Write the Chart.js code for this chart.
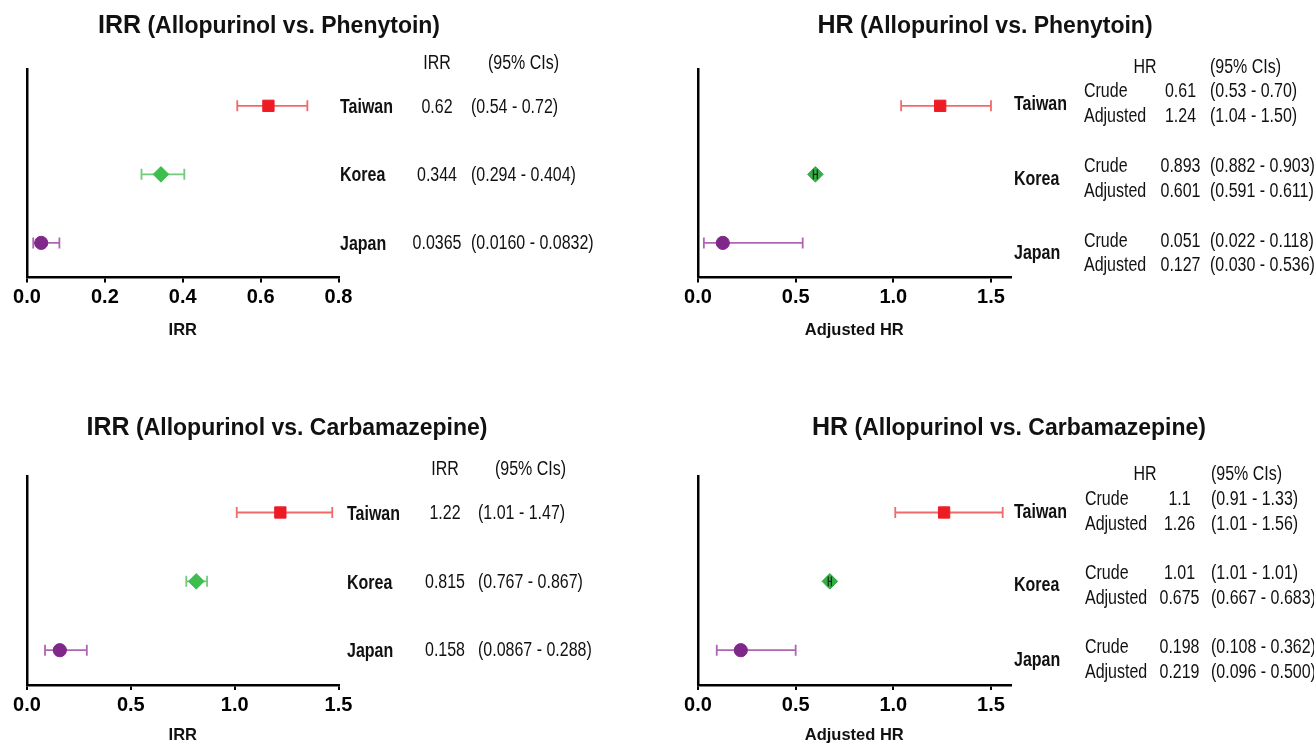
<!DOCTYPE html>
<html><head><meta charset="utf-8">
<script src="https://cdn.jsdelivr.net/npm/chart.js@4.4.1/dist/chart.umd.min.js"></script>
<style>
html,body{margin:0;padding:0;background:#fff;}
#wrap{position:relative;width:1314px;height:744px;overflow:hidden;background:#fff;}
canvas{position:absolute;}
</style></head><body>
<div id="wrap">
<canvas id="c1" width="657" height="372" style="left:0;top:0"></canvas>
<canvas id="c2" width="657" height="372" style="left:657px;top:0"></canvas>
<canvas id="c3" width="657" height="372" style="left:0;top:372px"></canvas>
<canvas id="c4" width="657" height="372" style="left:657px;top:372px"></canvas>
</div>
<script>
// ---------------- DATA ----------------
const countries = ['Taiwan', 'Korea', 'Japan'];
const rows = [1, 2, 3];

// IRR (Allopurinol vs. Phenytoin)
const irrPhenValues = [0.62, 0.344, 0.0365];
const irrPhenLow    = [0.54, 0.294, 0.0160];
const irrPhenHigh   = [0.72, 0.404, 0.0832];
const irrPhenValueText = ['0.62', '0.344', '0.0365'];
const irrPhenCIText    = ['(0.54 - 0.72)', '(0.294 - 0.404)', '(0.0160 - 0.0832)'];
const irrPhenTicks = [0, 0.2, 0.4, 0.6, 0.8];

// HR (Allopurinol vs. Phenytoin)
const hrPhenCrudeText   = ['0.61', '0.893', '0.051'];
const hrPhenCrudeCIText = ['(0.53 - 0.70)', '(0.882 - 0.903)', '(0.022 - 0.118)'];
const hrPhenAdjValues = [1.24, 0.601, 0.127];
const hrPhenAdjLow    = [1.04, 0.591, 0.030];
const hrPhenAdjHigh   = [1.50, 0.611, 0.536];
const hrPhenAdjText   = ['1.24', '0.601', '0.127'];
const hrPhenAdjCIText = ['(1.04 - 1.50)', '(0.591 - 0.611)', '(0.030 - 0.536)'];
const hrPhenTicks = [0, 0.5, 1.0, 1.5];

// IRR (Allopurinol vs. Carbamazepine)
const irrCarbValues = [1.22, 0.815, 0.158];
const irrCarbLow    = [1.01, 0.767, 0.0867];
const irrCarbHigh   = [1.47, 0.867, 0.288];
const irrCarbValueText = ['1.22', '0.815', '0.158'];
const irrCarbCIText    = ['(1.01 - 1.47)', '(0.767 - 0.867)', '(0.0867 - 0.288)'];
const irrCarbTicks = [0, 0.5, 1.0, 1.5];

// HR (Allopurinol vs. Carbamazepine)
const hrCarbCrudeText   = ['1.1', '1.01', '0.198'];
const hrCarbCrudeCIText = ['(0.91 - 1.33)', '(1.01 - 1.01)', '(0.108 - 0.362)'];
const hrCarbAdjValues = [1.26, 0.675, 0.219];
const hrCarbAdjLow    = [1.01, 0.667, 0.096];
const hrCarbAdjHigh   = [1.56, 0.683, 0.500];
const hrCarbAdjText   = ['1.26', '0.675', '0.219'];
const hrCarbAdjCIText = ['(1.01 - 1.56)', '(0.667 - 0.683)', '(0.096 - 0.500)'];
const hrCarbTicks = [0, 0.5, 1.0, 1.5];

// ---------------- STYLE ----------------
const FONT = "'Liberation Sans', Arial, Helvetica, sans-serif";
const markerStyles = ['rect', 'rectRot', 'circle'];
const markerRadius = [8, 7.8, 6.6];
const markerColors = ['#ED1C24', '#3DBE4E', '#80288A'];
const markerColorsHR = ['#ED1C24', '#34AE45', '#80288A'];
const barColors = ['rgba(240,90,90,0.9)', 'rgba(105,200,115,0.95)', 'rgba(165,85,170,0.9)'];
const SX = 0.82;   // condensed regular
const SXB = 0.78;  // condensed bold

function txt(ctx, t, x, y, align, bold, size, sx) {
  ctx.save();
  ctx.translate(x, y);
  ctx.scale(sx, 1);
  ctx.font = (bold ? 'bold ' : '') + size + 'px ' + FONT;
  ctx.textAlign = align;
  ctx.textBaseline = 'middle';
  ctx.fillStyle = '#111';
  ctx.fillText(t, 0, 0);
  ctx.restore();
}

function buildIRRText(p, valueText, ciText) {
  const items = [];
  items.push({t: 'IRR', x: p.valX, y: p.headY, a: 'center'});
  items.push({t: '(95% CIs)', x: p.ciHeadX, y: p.headY, a: 'left'});
  for (let i = 0; i < 3; i++) {
    items.push({t: countries[i], x: p.labX, y: p.rowY[i], a: 'left', b: true});
    items.push({t: valueText[i], x: p.valX, y: p.rowY[i], a: 'center'});
    items.push({t: ciText[i], x: p.ciX, y: p.rowY[i], a: 'left'});
  }
  return items;
}
function buildHRText(p, crT, crCI, adT, adCI) {
  const items = [];
  items.push({t: 'HR', x: p.headHRX, y: p.headY, a: 'center'});
  items.push({t: '(95% CIs)', x: p.ciX, y: p.headY, a: 'left'});
  for (let i = 0; i < 3; i++) {
    const yc = p.rowY[i];
    items.push({t: countries[i], x: p.labX, y: yc, a: 'left', b: true});
    items.push({t: 'Crude', x: p.kindX, y: yc - p.dy, a: 'left'});
    items.push({t: 'Adjusted', x: p.kindX, y: yc + p.dy, a: 'left'});
    items.push({t: crT[i], x: p.valX, y: yc - p.dy, a: 'center'});
    items.push({t: adT[i], x: p.valX, y: yc + p.dy, a: 'center'});
    items.push({t: crCI[i], x: p.ciX, y: yc - p.dy, a: 'left'});
    items.push({t: adCI[i], x: p.ciX, y: yc + p.dy, a: 'left'});
  }
  return items;
}

const panels = [
  { canvas: 'c1', ox: 0, oy: 0, xMax: 0.8, ticks: irrPhenTicks,
    values: irrPhenValues, low: irrPhenLow, high: irrPhenHigh, colors: markerColors,
    area: {left: 27, right: 338.5, top: 69.5, bottom: 277.5},
    title: ['IRR', ' (Allopurinol vs. Phenytoin)'], titleX: 269, titleY: 33,
    axisTitle: 'IRR', axisTitleY: 330,
    text: buildIRRText({valX: 437, ciHeadX: 488, headY: 63.5, labX: 340, ciX: 471, rowY: [107.5, 175.5, 244]},
                       irrPhenValueText, irrPhenCIText) },
  { canvas: 'c2', ox: 657, oy: 0, xMax: 1.6, ticks: hrPhenTicks,
    values: hrPhenAdjValues, low: hrPhenAdjLow, high: hrPhenAdjHigh, colors: markerColorsHR,
    area: {left: 698, right: 1010.5, top: 69.5, bottom: 277.5},
    title: ['HR', ' (Allopurinol vs. Phenytoin)'], titleX: 985, titleY: 33,
    axisTitle: 'Adjusted HR', axisTitleY: 330,
    text: buildHRText({headHRX: 1145, headY: 68, labX: 1014, kindX: 1084, valX: 1180.5, ciX: 1210,
                       rowY: [104.4, 179, 253.6], dy: 12.4},
                      hrPhenCrudeText, hrPhenCrudeCIText, hrPhenAdjText, hrPhenAdjCIText) },
  { canvas: 'c3', ox: 0, oy: 372, xMax: 1.5, ticks: irrCarbTicks,
    values: irrCarbValues, low: irrCarbLow, high: irrCarbHigh, colors: markerColors,
    area: {left: 27, right: 338.5, top: 476, bottom: 685},
    title: ['IRR', ' (Allopurinol vs. Carbamazepine)'], titleX: 287, titleY: 435,
    axisTitle: 'IRR', axisTitleY: 735,
    text: buildIRRText({valX: 445, ciHeadX: 495, headY: 470, labX: 347, ciX: 478, rowY: [514, 583, 651]},
                       irrCarbValueText, irrCarbCIText) },
  { canvas: 'c4', ox: 657, oy: 372, xMax: 1.6, ticks: hrCarbTicks,
    values: hrCarbAdjValues, low: hrCarbAdjLow, high: hrCarbAdjHigh, colors: markerColorsHR,
    area: {left: 698, right: 1010.5, top: 476, bottom: 685},
    title: ['HR', ' (Allopurinol vs. Carbamazepine)'], titleX: 1009, titleY: 435,
    axisTitle: 'Adjusted HR', axisTitleY: 735,
    text: buildHRText({headHRX: 1145, headY: 475, labX: 1014, kindX: 1085, valX: 1179.5, ciX: 1211,
                       rowY: [512, 585.8, 660.5], dy: 12.4},
                      hrCarbCrudeText, hrCarbCrudeCIText, hrCarbAdjText, hrCarbAdjCIText) }
];

function drawBars(chart, p, onlySmall) {
  const ctx = chart.ctx, xs = chart.scales.x, ys = chart.scales.y;
  for (let i = 0; i < p.values.length; i++) {
    const x1 = xs.getPixelForValue(p.low[i]);
    const x2 = xs.getPixelForValue(p.high[i]);
    const y = ys.getPixelForValue(rows[i]);
    const small = (x2 - x1) < 2 * markerRadius[i];
    if (onlySmall && !small) continue;
    ctx.save();
    ctx.strokeStyle = onlySmall ? '#16301a' : barColors[i];
    ctx.lineWidth = onlySmall ? 1.3 : 1.8;
    const ch = onlySmall ? 4.8 : 5.5;
    ctx.beginPath();
    ctx.moveTo(x1, y); ctx.lineTo(x2, y);
    ctx.moveTo(x1, y - ch); ctx.lineTo(x1, y + ch);
    ctx.moveTo(x2, y - ch); ctx.lineTo(x2, y + ch);
    ctx.stroke();
    ctx.restore();
  }
}

function makePlugin(p) {
  return {
    id: 'panelDeco',
    beforeDatasetsDraw(chart) { drawBars(chart, p, false); },
    afterDatasetsDraw(chart) { drawBars(chart, p, true); },
    afterDraw(chart) {
      const ctx = chart.ctx;
      ctx.save();
      ctx.fillStyle = '#111';
      ctx.textBaseline = 'alphabetic';
      ctx.textAlign = 'left';
      const f1 = 'bold 25px ' + FONT, f2 = 'bold 23px ' + FONT;
      ctx.font = f1; const w1 = ctx.measureText(p.title[0]).width;
      ctx.font = f2; const w2 = ctx.measureText(p.title[1]).width;
      const sx = p.titleX - p.ox - (w1 + w2) / 2;
      const ty = p.titleY - p.oy;
      ctx.font = f1; ctx.fillText(p.title[0], sx, ty);
      ctx.font = f2; ctx.fillText(p.title[1], sx + w1, ty);
      const ca = chart.chartArea;
      ctx.font = 'bold 16.5px ' + FONT;
      ctx.textAlign = 'center';
      ctx.textBaseline = 'middle';
      ctx.fillText(p.axisTitle, (ca.left + ca.right) / 2, p.axisTitleY - p.oy);
      ctx.restore();
      for (const it of p.text) {
        txt(ctx, it.t, it.x - p.ox, it.y - p.oy, it.a, !!it.b, it.b ? 20.5 : 19.5, it.b ? SXB : SX);
      }
    }
  };
}

const XH = 40;
panels.forEach(p => {
  const W = 657, H = 372;
  const pad = {
    left: p.area.left - p.ox,
    top: p.area.top - p.oy,
    right: p.ox + W - p.area.right,
    bottom: p.oy + H - p.area.bottom - XH
  };
  const ctx = document.getElementById(p.canvas).getContext('2d');
  new Chart(ctx, {
    type: 'scatter',
    data: {
      datasets: [{
        data: p.values.map((v, i) => ({x: v, y: rows[i]})),
        pointStyle: markerStyles,
        pointRadius: markerRadius,
        pointHoverRadius: markerRadius,
        backgroundColor: p.colors,
        borderColor: p.colors,
        borderWidth: 1,
        showLine: false,
        clip: false
      }]
    },
    options: {
      responsive: false,
      animation: false,
      events: [],
      layout: { padding: pad },
      plugins: { legend: {display: false}, tooltip: {enabled: false}, title: {display: false} },
      scales: {
        x: {
          type: 'linear', min: 0, max: p.xMax,
          afterFit(s) { s.height = XH; },
          afterBuildTicks(s) { s.ticks = p.ticks.map(v => ({value: v})); },
          grid: { display: true, drawOnChartArea: false, drawTicks: true, tickLength: 5, color: '#000', lineWidth: 2 },
          border: { display: true, color: '#000', width: 2.5 },
          ticks: {
            color: '#000', padding: 3, maxRotation: 0, autoSkip: false,
            font: { family: FONT, size: 20, weight: 'bold' },
            callback: v => Number(v).toFixed(1)
          }
        },
        y: {
          type: 'linear', reverse: true, min: 0.47, max: 3.505,
          afterFit(s) { s.width = 0; },
          grid: { display: false },
          border: { display: true, color: '#000', width: 2.5 },
          ticks: { display: false }
        }
      }
    },
    plugins: [makePlugin(p)]
  });
});
</script>
</body></html>
